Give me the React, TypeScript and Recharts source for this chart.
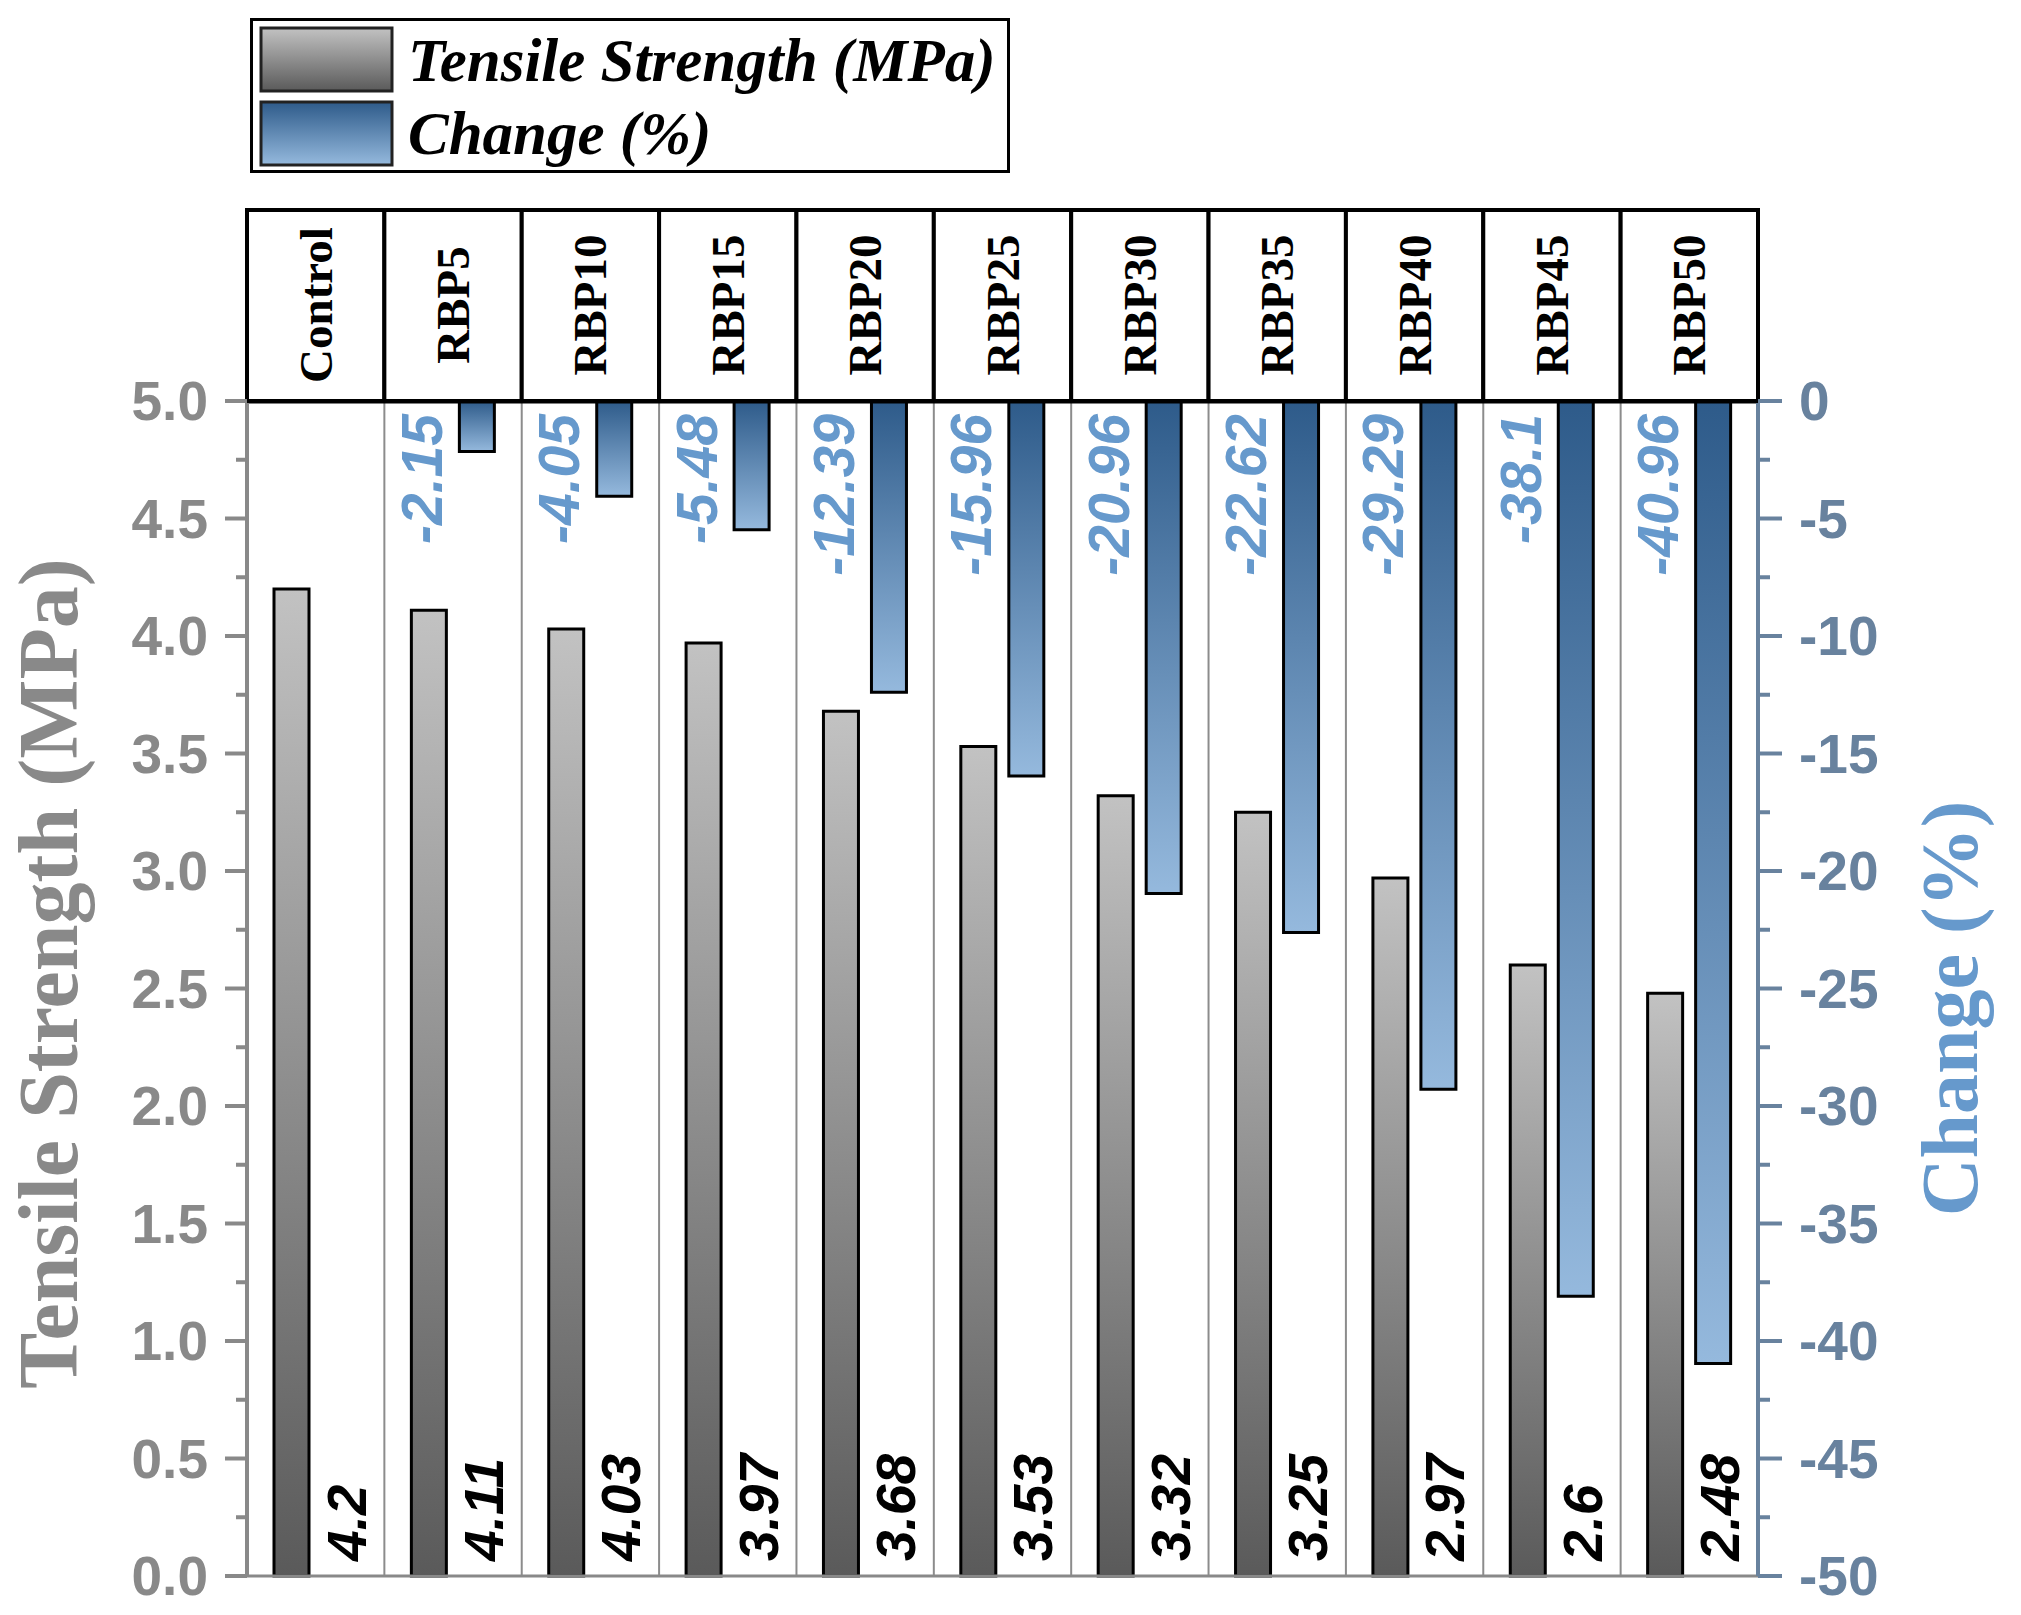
import React from "react";
import {
  BarChart,
  Bar,
  XAxis,
  YAxis,
  CartesianGrid,
  LabelList,
  Label,
  Legend,
} from "recharts";

const categories = ["Control", "RBP5", "RBP10", "RBP15", "RBP20", "RBP25", "RBP30", "RBP35", "RBP40", "RBP45", "RBP50"];
const tensileStrength = [4.2, 4.11, 4.03, 3.97, 3.68, 3.53, 3.32, 3.25, 2.97, 2.6, 2.48];
const changePct = [0, -2.15, -4.05, -5.48, -12.39, -15.96, -20.96, -22.62, -29.29, -38.1, -40.96];

const leftMajorTicks = [0, 0.5, 1, 1.5, 2, 2.5, 3, 3.5, 4, 4.5, 5];
const leftMinorTicks = [0.25, 0.75, 1.25, 1.75, 2.25, 2.75, 3.25, 3.75, 4.25, 4.75];
const rightMajorTicks = [0, -5, -10, -15, -20, -25, -30, -35, -40, -45, -50];
const rightMinorTicks = [-2.5, -7.5, -12.5, -17.5, -22.5, -27.5, -32.5, -37.5, -42.5, -47.5];

const data = categories.map((name, i) => ({
  name,
  tensile: tensileStrength[i],
  change: changePct[i],
}));

// layout
const W = 2021;
const H = 1615;
const LEFT_W = 247;
const RIGHT_W = 263;
const TOP = 209;
const HEADER_H = 192;
const BOTTOM_H = 39;
const BAND = (W - LEFT_W - RIGHT_W) / categories.length;

const GRAY = "#898989";
const SLATE = "#68829e";
const LIGHT_BLUE = "#6699cc";
const SANS = "'Liberation Sans', Arial, sans-serif";
const SERIF = "'Liberation Serif', 'Times New Roman', serif";

const LeftTick = ({ x, y, payload }: any) => {
  const major = leftMajorTicks.includes(payload.value);
  return (
    <g>
      <line x1={x - (major ? 22 : 11)} x2={x} y1={y} y2={y} stroke={GRAY} strokeWidth={4} />
      {major && (
        <text x={x - 39} y={y} textAnchor="end" dominantBaseline="central" fill={GRAY}
          fontFamily={SANS} fontWeight={700} fontSize={55}>
          {Number(payload.value).toFixed(1)}
        </text>
      )}
    </g>
  );
};

const RightTick = ({ x, y, payload }: any) => {
  const major = rightMajorTicks.includes(payload.value);
  return (
    <g>
      <line x1={x} x2={x + (major ? 24 : 12)} y1={y} y2={y} stroke={SLATE} strokeWidth={4} />
      {major && (
        <text x={x + 41} y={y} textAnchor="start" dominantBaseline="central" fill={SLATE}
          fontFamily={SANS} fontWeight={700} fontSize={55}>
          {String(payload.value)}
        </text>
      )}
    </g>
  );
};

const HeaderTick = ({ x, y, payload }: any) => (
  <g>
    <rect x={x - BAND / 2} y={TOP + 1} width={BAND} height={y - TOP - 1}
      fill="#fff" stroke="#000" strokeWidth={4} />
    <text transform={`translate(${x},${TOP + HEADER_H / 2}) rotate(-90)`}
      textAnchor="middle" dominantBaseline="central" fill="#000"
      fontFamily={SERIF} fontWeight={700} fontSize={47}>
      {payload.value}
    </text>
  </g>
);

const TensileLabel = (props: any) => {
  const vb = props.viewBox ?? props;
  const { x, y, width, height } = vb;
  const cx = x + width / 2 + 55;
  const bottom = Math.max(y, y + height);
  return (
    <text transform={`translate(${cx},${bottom - 15}) rotate(-90)`} textAnchor="start"
      dominantBaseline="central" fill="#000" fontFamily={SANS} fontWeight={700}
      fontStyle="italic" fontSize={55}>
      {props.value}
    </text>
  );
};

const ChangeLabel = (props: any) => {
  if (!props.value) return null;
  const vb = props.viewBox ?? props;
  const { x, y, width, height } = vb;
  const cx = x + width / 2 - 55;
  const top = Math.min(y, y + height);
  return (
    <text transform={`translate(${cx},${top + 13}) rotate(-90)`} textAnchor="end"
      dominantBaseline="central" fill={LIGHT_BLUE} fontFamily={SANS} fontWeight={700}
      fontStyle="italic" fontSize={57}>
      {props.value}
    </text>
  );
};

const LegendBox = () => (
  <svg width={760} height={155} style={{ display: "block" }}>
    <defs>
      <linearGradient id="legTs" x1="0" y1="0" x2="0" y2="1">
        <stop offset="0%" stopColor="#c2c2c2" />
        <stop offset="100%" stopColor="#5a5a5a" />
      </linearGradient>
      <linearGradient id="legChg" x1="0" y1="0" x2="0" y2="1">
        <stop offset="0%" stopColor="#2e5b8a" />
        <stop offset="100%" stopColor="#95b9dd" />
      </linearGradient>
    </defs>
    <rect x={1.5} y={1.5} width={757} height={152} fill="#fff" stroke="#000" strokeWidth={3} />
    <rect x={11} y={10} width={131} height={63} fill="url(#legTs)" stroke="#222" strokeWidth={3} />
    <rect x={11} y={84} width={131} height={63} fill="url(#legChg)" stroke="#222" strokeWidth={3} />
    <text x={158} y={63} fontFamily={SERIF} fontWeight={700} fontStyle="italic" fontSize={61} fill="#000">
      Tensile Strength (MPa)
    </text>
    <text x={158} y={136} fontFamily={SERIF} fontWeight={700} fontStyle="italic" fontSize={61} fill="#000">
      Change (%)
    </text>
  </svg>
);

export default function App() {
  return (
    <div style={{ position: "absolute", left: 0, top: 0, background: "#fff" }}>
      <BarChart
        width={W}
        height={H}
        data={data}
        barGap={13}
        margin={{ top: TOP, right: 0, left: 0, bottom: 0 }}
      >
        <defs>
          <linearGradient id="tsGrad" x1="0" y1="0" x2="0" y2="1">
            <stop offset="0%" stopColor="#c2c2c2" />
            <stop offset="100%" stopColor="#5a5a5a" />
          </linearGradient>
          <linearGradient id="chgGrad" x1="0" y1="0" x2="0" y2="1">
            <stop offset="0%" stopColor="#2e5b8a" />
            <stop offset="100%" stopColor="#95b9dd" />
          </linearGradient>
        </defs>
        <CartesianGrid
          xAxisId="bottom"
          yAxisId="ts"
          horizontal={false}
          stroke="#8c8c8c"
          strokeWidth={2}
          verticalCoordinatesGenerator={({ offset }: any) =>
            categories.slice(1).map((_, i) => offset.left + ((i + 1) * offset.width) / categories.length)
          }
        />
        <XAxis
          xAxisId="bottom"
          dataKey="name"
          height={BOTTOM_H}
          interval={0}
          tick={false}
          tickLine={false}
          axisLine={{ stroke: GRAY, strokeWidth: 3 }}
        />
        <XAxis
          xAxisId="top"
          orientation="top"
          dataKey="name"
          height={HEADER_H}
          interval={0}
          tickSize={0}
          tickMargin={0}
          tickLine={false}
          tick={<HeaderTick />}
          axisLine={{ stroke: "#000", strokeWidth: 5 }}
        />
        <YAxis
          yAxisId="ts"
          orientation="left"
          width={LEFT_W}
          domain={[0, 5]}
          ticks={[...leftMajorTicks, ...leftMinorTicks]}
          interval={0}
          tickSize={0}
          tickMargin={0}
          tickLine={false}
          tick={<LeftTick />}
          axisLine={{ stroke: GRAY, strokeWidth: 4 }}
        >
          <Label
            content={(p: any) => {
              const vb = p.viewBox ?? { x: 0, y: TOP + HEADER_H, width: LEFT_W, height: 1175 };
              return (
                <text transform={`translate(${vb.x + 48},${vb.y + vb.height / 2 - 15}) rotate(-90)`}
                  textAnchor="middle" dominantBaseline="central" fill={GRAY}
                  fontFamily={SERIF} fontWeight={700} fontSize={84}>
                  Tensile Strength (MPa)
                </text>
              );
            }}
          />
        </YAxis>
        <YAxis
          yAxisId="chg"
          orientation="right"
          width={RIGHT_W}
          domain={[-50, 0]}
          ticks={[...rightMajorTicks, ...rightMinorTicks]}
          interval={0}
          tickSize={0}
          tickMargin={0}
          tickLine={false}
          tick={<RightTick />}
          axisLine={{ stroke: SLATE, strokeWidth: 4 }}
        >
          <Label
            content={(p: any) => {
              const vb = p.viewBox ?? { x: W - RIGHT_W, y: TOP + HEADER_H, width: RIGHT_W, height: 1175 };
              return (
                <text transform={`translate(${vb.x + 192},${vb.y + vb.height / 2 + 20}) rotate(-90)`}
                  textAnchor="middle" dominantBaseline="central" fill={LIGHT_BLUE}
                  fontFamily={SERIF} fontWeight={700} fontSize={80}>
                  Change (%)
                </text>
              );
            }}
          />
        </YAxis>
        <Legend
          layout="vertical"
          align="center"
          verticalAlign="middle"
          wrapperStyle={{ left: 250, top: 18, width: 760, height: 155 }}
          content={() => <LegendBox />}
        />
        <Bar
          xAxisId="bottom"
          yAxisId="ts"
          dataKey="tensile"
          barSize={35}
          fill="url(#tsGrad)"
          stroke="#000"
          strokeWidth={3}
          isAnimationActive={false}
        >
          <LabelList dataKey="tensile" content={<TensileLabel />} />
        </Bar>
        <Bar
          xAxisId="bottom"
          yAxisId="chg"
          dataKey="change"
          barSize={35}
          fill="url(#chgGrad)"
          stroke="#000"
          strokeWidth={3}
          isAnimationActive={false}
        >
          <LabelList dataKey="change" content={<ChangeLabel />} />
        </Bar>
      </BarChart>
    </div>
  );
}
